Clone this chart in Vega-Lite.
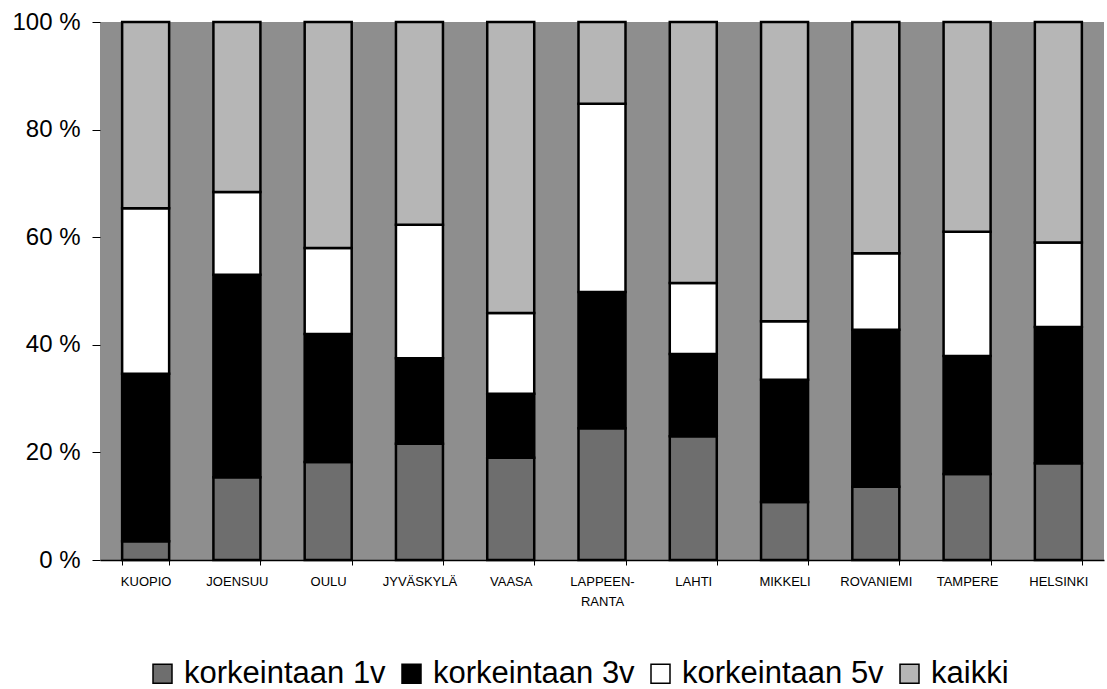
{
  "$schema": "https://vega.github.io/schema/vega-lite/v6.json",
  "width": 1004,
  "height": 538,
  "autosize": {"type": "none"},
  "padding": {"left": 100, "top": 22, "right": 3, "bottom": 129},
  "background": "white",
  "config": {
    "font": "Liberation Sans",
    "view": {"fill": "#8e8e8e", "stroke": null}
  },
  "data": {"values": [
    {"city":"KUOPIO","cat":"korkeintaan 1v","n":1,"v":3.5},
    {"city":"KUOPIO","cat":"korkeintaan 3v","n":2,"v":31.1},
    {"city":"KUOPIO","cat":"korkeintaan 5v","n":3,"v":30.8},
    {"city":"KUOPIO","cat":"kaikki","n":4,"v":34.6},
    {"city":"JOENSUU","cat":"korkeintaan 1v","n":1,"v":15.4},
    {"city":"JOENSUU","cat":"korkeintaan 3v","n":2,"v":37.6},
    {"city":"JOENSUU","cat":"korkeintaan 5v","n":3,"v":15.4},
    {"city":"JOENSUU","cat":"kaikki","n":4,"v":31.6},
    {"city":"OULU","cat":"korkeintaan 1v","n":1,"v":18.2},
    {"city":"OULU","cat":"korkeintaan 3v","n":2,"v":23.8},
    {"city":"OULU","cat":"korkeintaan 5v","n":3,"v":16.0},
    {"city":"OULU","cat":"kaikki","n":4,"v":42.0},
    {"city":"JYVÄSKYLÄ","cat":"korkeintaan 1v","n":1,"v":21.6},
    {"city":"JYVÄSKYLÄ","cat":"korkeintaan 3v","n":2,"v":15.9},
    {"city":"JYVÄSKYLÄ","cat":"korkeintaan 5v","n":3,"v":24.8},
    {"city":"JYVÄSKYLÄ","cat":"kaikki","n":4,"v":37.7},
    {"city":"VAASA","cat":"korkeintaan 1v","n":1,"v":19.0},
    {"city":"VAASA","cat":"korkeintaan 3v","n":2,"v":11.9},
    {"city":"VAASA","cat":"korkeintaan 5v","n":3,"v":15.0},
    {"city":"VAASA","cat":"kaikki","n":4,"v":54.1},
    {"city":"LAPPEENRANTA","cat":"korkeintaan 1v","n":1,"v":24.5},
    {"city":"LAPPEENRANTA","cat":"korkeintaan 3v","n":2,"v":25.3},
    {"city":"LAPPEENRANTA","cat":"korkeintaan 5v","n":3,"v":35.0},
    {"city":"LAPPEENRANTA","cat":"kaikki","n":4,"v":15.2},
    {"city":"LAHTI","cat":"korkeintaan 1v","n":1,"v":23.0},
    {"city":"LAHTI","cat":"korkeintaan 3v","n":2,"v":15.3},
    {"city":"LAHTI","cat":"korkeintaan 5v","n":3,"v":13.2},
    {"city":"LAHTI","cat":"kaikki","n":4,"v":48.5},
    {"city":"MIKKELI","cat":"korkeintaan 1v","n":1,"v":10.8},
    {"city":"MIKKELI","cat":"korkeintaan 3v","n":2,"v":22.7},
    {"city":"MIKKELI","cat":"korkeintaan 5v","n":3,"v":10.9},
    {"city":"MIKKELI","cat":"kaikki","n":4,"v":55.6},
    {"city":"ROVANIEMI","cat":"korkeintaan 1v","n":1,"v":13.6},
    {"city":"ROVANIEMI","cat":"korkeintaan 3v","n":2,"v":29.2},
    {"city":"ROVANIEMI","cat":"korkeintaan 5v","n":3,"v":14.2},
    {"city":"ROVANIEMI","cat":"kaikki","n":4,"v":43.0},
    {"city":"TAMPERE","cat":"korkeintaan 1v","n":1,"v":16.0},
    {"city":"TAMPERE","cat":"korkeintaan 3v","n":2,"v":21.9},
    {"city":"TAMPERE","cat":"korkeintaan 5v","n":3,"v":23.1},
    {"city":"TAMPERE","cat":"kaikki","n":4,"v":39.0},
    {"city":"HELSINKI","cat":"korkeintaan 1v","n":1,"v":18.0},
    {"city":"HELSINKI","cat":"korkeintaan 3v","n":2,"v":25.3},
    {"city":"HELSINKI","cat":"korkeintaan 5v","n":3,"v":15.7},
    {"city":"HELSINKI","cat":"kaikki","n":4,"v":41.0}
  ]},
  "mark": {"type": "bar", "stroke": "black", "strokeWidth": 2.5},
  "encoding": {
    "x": {
      "field": "city", "type": "nominal", "sort": null,
      "scale": {"paddingInner": 0.485, "paddingOuter": 0.2425},
      "axis": {
        "title": null, "labelAngle": 0, "labelFontSize": 13, "labelColor": "black",
        "labelPadding": 10, "domainColor": "black", "domainWidth": 1.5,
        "tickBand": "extent", "tickColor": "black", "tickSize": 5, "tickWidth": 1,
        "labelExpr": "datum.label == 'LAPPEENRANTA' ? ['LAPPEEN-', 'RANTA'] : datum.label",
        "labelLineHeight": 20
      }
    },
    "y": {
      "field": "v", "type": "quantitative", "stack": "zero",
      "scale": {"domain": [0, 100], "nice": false},
      "axis": {
        "title": null, "values": [0, 20, 40, 60, 80, 100], "grid": false,
        "labelExpr": "datum.value + ' %'", "labelFontSize": 24, "labelColor": "black",
        "labelPadding": 12, "tickColor": "black", "tickSize": 8, "domain": false
      }
    },
    "order": {"field": "n", "type": "quantitative", "sort": "ascending"},
    "color": {
      "field": "cat", "type": "nominal",
      "scale": {
        "domain": ["korkeintaan 1v", "korkeintaan 3v", "korkeintaan 5v", "kaikki"],
        "range": ["#6e6e6e", "#000000", "#ffffff", "#b6b6b6"]
      },
      "legend": {
        "title": null, "orient": "none", "direction": "horizontal",
        "legendX": 47, "legendY": 636,
        "symbolType": "square", "symbolSize": 361, "symbolStrokeColor": "black",
        "symbolStrokeWidth": 1.5, "labelFontSize": 31, "labelColor": "black",
        "labelLimit": 0, "labelOffset": 6, "columnPadding": 10, "symbolOpacity": 1
      }
    }
  }
}
